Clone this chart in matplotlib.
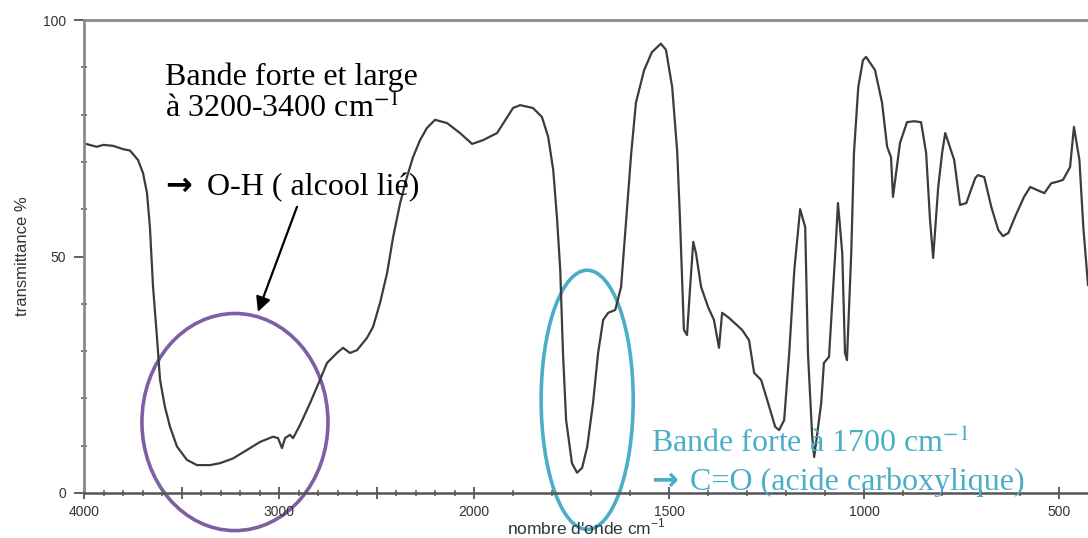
import numpy as np
import matplotlib
matplotlib.use('Agg')
import matplotlib.pyplot as plt
from matplotlib.patches import Ellipse

# Spectre IR : nombre d'onde (cm-1) et transmittance (%)
wavenumber = [3990, 3935, 3900, 3851, 3800, 3764, 3723, 3697, 3677, 3662, 3646, 3626,
              3610, 3585, 3559, 3523, 3472, 3421, 3354, 3303, 3236, 3164, 3097, 3031,
              3005, 2985, 2969, 2944, 2928, 2892, 2841, 2790, 2754, 2703, 2672, 2636,
              2600, 2549, 2518, 2482, 2446, 2415, 2379, 2344, 2313, 2277, 2241, 2200,
              2138, 2072, 2010, 1977, 1941, 1900, 1882, 1849, 1826, 1810, 1797, 1787,
              1779, 1772, 1764, 1749, 1736, 1723, 1710, 1695, 1682, 1669, 1656, 1638,
              1623, 1610, 1597, 1585, 1564, 1544, 1521, 1508, 1492, 1479, 1472, 1462,
              1454, 1446, 1438, 1431, 1418, 1400, 1385, 1372, 1364, 1346, 1313, 1295,
              1282, 1264, 1246, 1228, 1218, 1205, 1192, 1179, 1164, 1151, 1144, 1133,
              1128, 1110, 1103, 1090, 1074, 1067, 1056, 1049, 1044, 1033, 1026, 1015,
              1003, 995, 972, 954, 941, 931, 926, 908, 890, 872, 854, 841, 831, 823,
              810, 800, 792, 769, 754, 738, 715, 708, 692, 674, 656, 644, 630, 613,
              590, 574, 555, 538, 520, 505, 490, 472, 462, 448, 438, 426]
transmittance = [73.8, 73.2, 73.6, 73.4, 72.7, 72.4, 70.4, 67.6, 63.4, 56.2, 43.6, 33.0,
                 23.9, 18.2, 14.0, 9.8, 7.0, 5.9, 5.9, 6.3, 7.3, 9.1, 10.8, 11.9,
                 11.6, 9.5, 11.6, 12.3, 11.6, 14.4, 19.0, 23.9, 27.5, 29.6, 30.7, 29.6,
                 30.2, 32.8, 35.1, 40.2, 46.5, 54.1, 61.3, 66.8, 71.0, 74.6, 77.2, 78.9,
                 78.2, 76.1, 73.8, 74.6, 76.1, 81.4, 82.0, 81.4, 79.5, 75.3, 68.3, 57.7,
                 47.1, 29.6, 15.4, 6.3, 4.3, 5.3, 9.7, 19.0, 29.6, 36.6, 38.1, 38.7,
                 43.6, 57.7, 71.9, 82.5, 89.4, 93.2, 95.0, 93.7, 85.8, 71.9, 57.7, 34.5,
                 33.4, 43.6, 53.1, 50.7, 43.6, 39.3, 36.6, 30.7, 38.1, 37.0, 34.5, 32.3,
                 25.4, 23.9, 19.0, 14.0, 13.3, 15.4, 29.6, 47.1, 60.0, 56.2, 29.6, 11.8,
                 7.6, 19.0, 27.5, 28.8, 50.7, 61.3, 50.7, 29.6, 28.1, 50.7, 71.9, 85.8,
                 91.5, 92.2, 89.4, 82.5, 73.2, 71.0, 62.6, 74.0, 78.4, 78.6, 78.4, 71.9,
                 57.7, 49.7, 64.7, 71.9, 76.1, 70.4, 60.9, 61.3, 66.6, 67.2, 66.8, 60.5,
                 55.6, 54.3, 55.0, 58.4, 62.6, 64.7, 64.0, 63.4, 65.5, 65.8, 66.2, 68.9,
                 77.4, 70.4, 56.2, 44.0]

x_ticks = [4000, 3500, 3000, 2500, 2000, 1500, 1000, 500]
x_tick_labels = ['4000', '', '3000', '', '2000', '1500', '1000', '500']
y_ticks = [0, 50, 100]


# echelle dilatee x2 en dessous de 2000 cm-1 (comme sur le spectrometre)
def forward(x):
    x = np.asarray(x, dtype=float)
    return np.where(x >= 2000, 2000 + (x - 2000) / 2, x)


def inverse(u):
    u = np.asarray(u, dtype=float)
    return np.where(u >= 2000, 2000 + (u - 2000) * 2, u)


plt.rcParams['mathtext.fontset'] = 'stix'
serif = ['Liberation Serif', 'DejaVu Serif']
sans = ['Liberation Sans', 'DejaVu Sans']
purple = '#7e5fa4'
cyan = '#4aaec6'

fig = plt.figure(figsize=(10.88, 5.38), dpi=100)
ax = fig.add_axes([84 / 1088, 45 / 538, 1 - 84 / 1088, 473 / 538])
ax.set_xscale('function', functions=(forward, inverse))

ax.plot(wavenumber, transmittance, color='#3c3c3c', lw=1.6)

ax.set_xlim(4000, 426)
ax.set_ylim(0, 100)

ax.set_xticks(x_ticks)
ax.set_xticklabels(x_tick_labels)
ax.set_xticks(np.arange(500, 4000, 100), minor=True)
ax.set_yticks(y_ticks)
ax.set_yticks(np.arange(0, 101, 10), minor=True)

for lab in ax.get_xticklabels() + ax.get_yticklabels():
    lab.set_family(sans)
ax.tick_params(axis='both', which='major', labelsize=10, labelcolor='#333333',
               color='#555555', width=1.3)
ax.tick_params(axis='x', which='major', direction='inout', length=9, pad=4)
ax.tick_params(axis='y', which='major', direction='out', length=7, pad=6)
ax.tick_params(axis='both', which='minor', direction='inout', length=4,
               color='#666666', width=1.2)

for side in ['left', 'top']:
    ax.spines[side].set_color('#8a8a8a')
    ax.spines[side].set_linewidth(2)
ax.spines['bottom'].set_color('#555555')
ax.spines['bottom'].set_linewidth(1.8)
ax.spines['right'].set_visible(False)

ax.set_ylabel('transmittance %', family=sans, fontsize=12, color='#333333', labelpad=9)
ax.set_xlabel(r"nombre d'onde cm$^{\mathregular{-1}}$", family=sans, fontsize=12.5,
              color='#333333', labelpad=-1)

# annotations O-H
ax.text(3585, 86.3, "Bande forte et large", family=serif, fontsize=23,
        color='black', va='baseline', ha='left')
ax.text(3585, 79.5, "à 3200-3400 cm$^{-1}$", family=serif, fontsize=23,
        color='black', va='baseline', ha='left')
ax.text(3585, 63.0, "→", family='DejaVu Sans', fontsize=23, fontweight='bold',
        color='black', va='baseline', ha='left')
ax.text(3369, 63.0, "O-H ( alcool lié)", family=serif, fontsize=23,
        color='black', va='baseline', ha='left')
ax.annotate('', xy=(3108, 38.3), xytext=(2908, 60.5),
            arrowprops=dict(arrowstyle='-|>', color='black', lw=1.6,
                            mutation_scale=22, shrinkA=0, shrinkB=0))

ax.add_patch(Ellipse((3226, 15.0), 954, 45.9, fill=False, edgecolor=purple,
                     lw=2.6, clip_on=False))
ax.add_patch(Ellipse((1710, 19.7), 236, 54.8, fill=False, edgecolor=cyan,
                     lw=2.6, clip_on=False))

# annotations C=O
ax.text(1546, 8.7, "Bande forte à 1700 cm$^{-1}$", family=serif, fontsize=23,
        color=cyan, va='baseline', ha='left')
ax.text(1546, 0.6, "→", family='DejaVu Sans', fontsize=23, fontweight='bold',
        color=cyan, va='baseline', ha='left', clip_on=False)
ax.text(1446, 0.6, "C=O (acide carboxylique)", family=serif, fontsize=23,
        color=cyan, va='baseline', ha='left')

fig.savefig('out.png', dpi=100)
